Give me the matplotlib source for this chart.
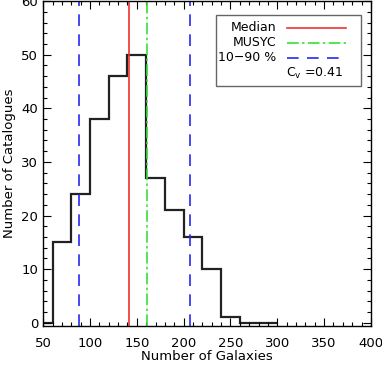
import matplotlib.pyplot as plt
from matplotlib.patches import Rectangle
from matplotlib.ticker import MultipleLocator

# histogram of galaxy counts per catalogue
edges = [50, 60, 80, 100, 120, 140, 160, 180, 200, 220, 240, 260, 280, 300]
counts = [0, 15, 24, 38, 46, 50, 27, 21, 16, 10, 1, 0, 0]

median = 141.3
musyc = 161.2
p10 = 88.5
p90 = 206.8
cv = 0.41

plt.rcParams['font.family'] = 'DejaVu Sans'
plt.rcParams['font.size'] = 9.5

fig = plt.figure(figsize=(3.82, 3.65), dpi=100)
ax = fig.add_axes([0.113, 0.107, 0.858, 0.890])

ax.stairs(counts, edges, baseline=None, color='#222222', lw=1.6)
ax.axvline(median, color='#f03030', lw=1.2)
ax.axvline(musyc, color='#33e033', lw=1.2, linestyle=(0, (7, 2, 1.5, 2)))
ax.axvline(p10, color='#2828f0', lw=1.2, linestyle=(0, (7, 5)))
ax.axvline(p90, color='#2828f0', lw=1.2, linestyle=(0, (7, 5)))

ax.set_xlim(50, 400)
ax.set_ylim(-0.6, 60)
ax.xaxis.set_major_locator(MultipleLocator(50))
ax.xaxis.set_minor_locator(MultipleLocator(10))
ax.yaxis.set_major_locator(MultipleLocator(10))
ax.yaxis.set_minor_locator(MultipleLocator(2))
ax.tick_params(which='both', direction='in', top=True, right=True, width=0.8)
ax.tick_params(which='major', length=6)
ax.tick_params(which='minor', length=3)
ax.tick_params(axis='x', pad=8)
for s in ax.spines.values():
    s.set_linewidth(1.0)

ax.set_xlabel('Number of Galaxies', labelpad=0)
ax.set_ylabel('Number of Catalogues', labelpad=4)

# legend box drawn by hand (labels right aligned, IDL style)
ax.add_patch(Rectangle((0.527, 0.739), 0.442, 0.218, transform=ax.transAxes,
                       fill=False, edgecolor='#666666', lw=1.0))
entries = [('Median', '#f03030', '-', 0.918),
           ('MUSYC', '#33e033', (0, (7, 2, 1.5, 2)), 0.872),
           ('10\u221290 %', '#2828f0', (0, (7, 5)), 0.825)]
for lab, col, ls, yy in entries:
    ax.text(0.712, yy, lab, transform=ax.transAxes, ha='right', va='center',
            fontsize=9)
    ax.plot([0.745, 0.924], [yy, yy], transform=ax.transAxes, color=col,
            lw=1.2, linestyle=ls)
ax.text(0.915, 0.778, r'$\mathregular{C_v}$ =%.2f' % cv, transform=ax.transAxes,
        ha='right', va='center', fontsize=9)

fig.savefig('out.png', dpi=100)
